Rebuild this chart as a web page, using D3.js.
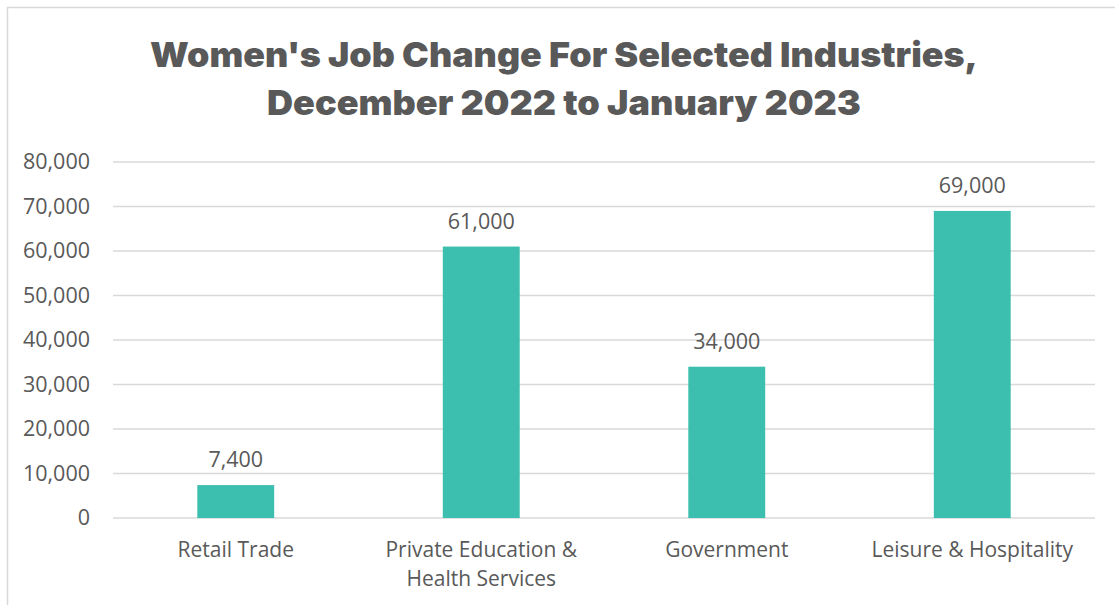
<!DOCTYPE html>
<html>
<head>
<meta charset="utf-8">
<script src="https://cdn.jsdelivr.net/npm/d3@7"></script>
<style>
  html, body { margin: 0; padding: 0; background: #fff; }
  svg { display: block; }
</style>
</head>
<body>
<svg id="chart" width="1115" height="605"></svg>
<script>
// Chart data
const categories = [
  ["Retail Trade"],
  ["Private Education &", "Health Services"],
  ["Government"],
  ["Leisure & Hospitality"]
];
const values = [7400, 61000, 34000, 69000];
const valueLabels = ["7,400", "61,000", "34,000", "69,000"];
const yTicks = [0, 10000, 20000, 30000, 40000, 50000, 60000, 70000, 80000];
const titleLines = ["Women's Job Change For Selected Industries,", "December 2022 to January 2023"];

const svg = d3.select("#chart");
const W = 1115, H = 605;
const textColor = "#595959";
const barColor = "#3dbfaf";
const gridColor = "#d9d9d9";
const labelFont = "'Open Sans', 'Liberation Sans', sans-serif";

// Outer frame
svg.append("rect")
  .attr("x", 7.5).attr("y", 7.5)
  .attr("width", W + 10).attr("height", H + 10)
  .attr("fill", "none").attr("stroke", "#d9d9d9").attr("stroke-width", 1.5);

// Title
const titleWidths = [828, 594];
svg.append("g").selectAll("text")
  .data(titleLines)
  .join("text")
  .attr("x", 564)
  .attr("y", (d, i) => 67 + i * 48)
  .attr("text-anchor", "middle")
  .attr("font-family", "Inter, 'Open Sans', sans-serif")
  .attr("font-weight", 900)
  .attr("font-size", 34.5)
  .attr("textLength", (d, i) => titleWidths[i])
  .attr("lengthAdjust", "spacingAndGlyphs")
  .attr("fill", textColor)
  .text(d => d);

const plot = { left: 113, right: 1095, top: 162, bottom: 518 };

const x = d3.scaleBand()
  .domain(d3.range(categories.length))
  .range([plot.left, plot.right])
  .paddingInner(0.6868)
  .paddingOuter(0.3434);

const y = d3.scaleLinear()
  .domain([0, 80000])
  .range([plot.bottom, plot.top]);

// Gridlines
svg.append("g").selectAll("line")
  .data(yTicks)
  .join("line")
  .attr("x1", plot.left).attr("x2", plot.right)
  .attr("y1", d => y(d)).attr("y2", d => y(d))
  .attr("stroke", gridColor).attr("stroke-width", 1.5);

// Y axis labels
const yAxis = d3.axisLeft(y)
  .tickValues(yTicks)
  .tickFormat(d3.format(","))
  .tickSize(0)
  .tickPadding(0);
const gy = svg.append("g")
  .attr("transform", `translate(90,0)`)
  .call(yAxis);
gy.select(".domain").remove();
gy.selectAll("text")
  .attr("font-family", labelFont)
  .attr("font-size", 21.5)
  .attr("fill", textColor);

// Bars
svg.append("g").selectAll("rect")
  .data(values)
  .join("rect")
  .attr("x", (d, i) => x(i))
  .attr("width", x.bandwidth())
  .attr("y", d => y(d))
  .attr("height", d => y(0) - y(d))
  .attr("fill", barColor);

// Value labels
svg.append("g").selectAll("text")
  .data(values)
  .join("text")
  .attr("x", (d, i) => x(i) + x.bandwidth() / 2)
  .attr("y", d => y(d) - 18)
  .attr("text-anchor", "middle")
  .attr("font-family", labelFont)
  .attr("font-size", 21.5)
  .attr("fill", textColor)
  .text((d, i) => valueLabels[i]);

// Category labels
const xAxis = d3.axisBottom(x).tickSize(0).tickFormat("");
const gx = svg.append("g")
  .attr("transform", `translate(0,${plot.bottom})`)
  .call(xAxis);
gx.select(".domain").remove();
gx.selectAll(".tick").each(function(d) {
  const t = d3.select(this).append("text")
    .attr("text-anchor", "middle")
    .attr("font-family", labelFont)
    .attr("font-size", 21)
    .attr("fill", textColor);
  categories[d].forEach((line, j) => {
    t.append("tspan").attr("x", 0).attr("y", 39 + j * 29).text(line);
  });
});
</script>
</body>
</html>
